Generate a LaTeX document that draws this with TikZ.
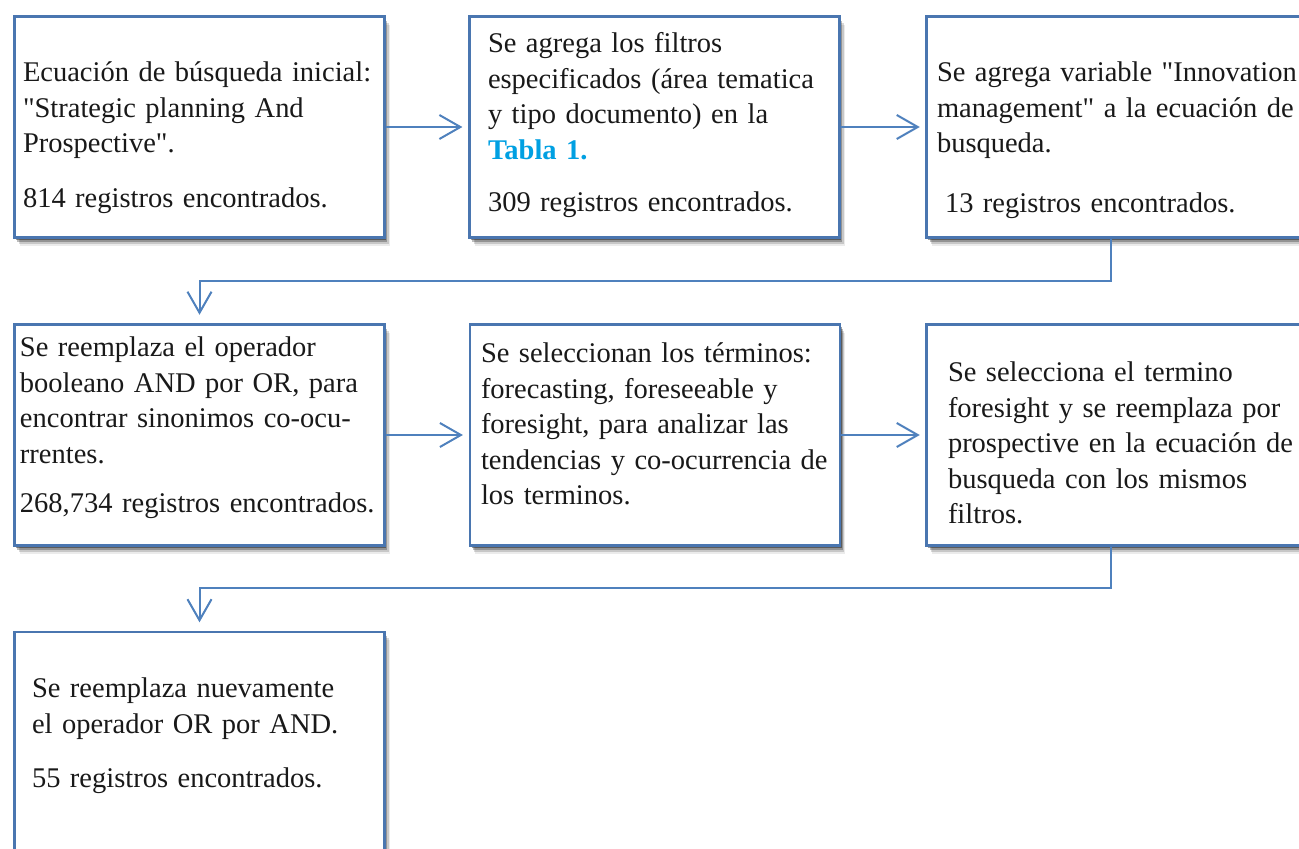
\documentclass[tikz,border=0pt]{standalone}
\usepackage{fontspec}
\setmainfont{Liberation Serif}[Ligatures=TeXOff]
\usetikzlibrary{arrows.meta,shadows}
\definecolor{boxblue}{RGB}{74,118,176}
\definecolor{lineblue}{RGB}{79,129,189}
\definecolor{tabla}{RGB}{0,160,226}
\definecolor{ink}{RGB}{25,25,25}
\newcommand\boxfont{\fontsize{17.1pt}{21.3pt}\selectfont}
\newcommand\jl[1]{\makebox[\linewidth][s]{#1}}
\tikzset{
  softshadow/.style={
    drop shadow={shadow xshift=0.9pt,shadow yshift=-1.3pt,opacity=0.38,fill=black},
    drop shadow={shadow xshift=1.7pt,shadow yshift=-2.6pt,opacity=0.26,fill=black},
    drop shadow={shadow xshift=2.4pt,shadow yshift=-3.8pt,opacity=0.15,fill=black},
    drop shadow={shadow xshift=3.0pt,shadow yshift=-5.0pt,opacity=0.08,fill=black}},
  box/.style={rectangle, draw=boxblue, line width=1.7pt, fill=white, inner sep=0pt, softshadow},
  txt/.style={anchor=north west, inner sep=0pt, outer sep=0pt, align=left, font=\boxfont, text=ink},
  conn/.style={draw=lineblue, line width=1.2pt, -{Straight Barb[length=12.6pt, width=14.4pt]}}
}
\begin{document}
\begin{tikzpicture}[x=0.6pt,y=-0.6pt]
\useasboundingbox (0,0) rectangle (1299,849);
\fill[white] (0,0) rectangle (1299,849);
\clip (0,0) rectangle (1299,849);

% boxes
\node[box, minimum width=222pt, minimum height=132.6pt] (A) at (199.5,127) {};
\node[box, minimum width=222pt, minimum height=132.6pt] (B) at (654.5,127) {};
\node[box, minimum width=230pt, minimum height=132.6pt] (C) at (1118.5,127) {};
\node[box, minimum width=222pt, minimum height=132.6pt] (D) at (199.5,435) {};
\node[box, minimum width=222pt, minimum height=132.6pt] (E) at (655,435) {};
\node[box, minimum width=230pt, minimum height=132.6pt] (F) at (1118.5,435) {};
\node[box, minimum width=222pt, minimum height=144pt] (G) at (199.5,752) {};

% texts
\node[txt, text width=219pt] (tA) at (23,57) {\strut Ecuación de búsqueda inicial:\\
"Strategic planning And\\
Prospective".\\[11.7pt]
814 registros encontrados.};

\node[txt, text width=207pt] (tB) at (488,28) {\strut Se agrega los filtros\\
especificados (área tematica\\
y tipo documento) en la\\
\textcolor{tabla}{\textbf{Tabla 1.}}\\[10.2pt]
309 registros encontrados.};

\node[txt, text width=222pt] (tC) at (937,57) {\strut Se agrega variable "Innovation\\
management" a la ecuación de\\
busqueda.\\[14.7pt]
\hspace*{4.8pt}13 registros encontrados.};

\node[txt, text width=213pt] (tD) at (20,332) {\strut\jl{Se reemplaza el operador}\\
\jl{booleano AND por OR, para}\\
\jl{encontrar sinonimos co-ocu-}\\
rrentes.\\[8.4pt]
268,734 registros encontrados.};

\node[txt, text width=210pt] (tE) at (481,338) {\strut\jl{Se seleccionan los términos:}\\
\jl{forecasting, foreseeable y}\\
\jl{foresight, para analizar las}\\
\jl{tendencias y co-ocurrencia de}\\
los terminos.};

\node[txt, text width=209.4pt] (tF) at (948,357) {\strut\jl{Se selecciona el termino}\\
\jl{foresight y se reemplaza por}\\
\jl{prospective en la ecuación de}\\
\jl{busqueda con los mismos}\\
filtros.};

\node[txt, text width=210pt] (tG) at (32,673) {\strut Se reemplaza nuevamente\\
el operador OR por AND.\\[11.4pt]
55 registros encontrados.};

% connectors
\draw[conn, shorten >=3.4pt] (A) -- (B);
\draw[conn, shorten >=3.4pt] (B) -- (C);
\draw[conn, shorten >=3.4pt] (D) -- (E);
\draw[conn, shorten >=3.4pt] (E) -- (F);
\coordinate (k1) at (1111,281);
\draw[conn, shorten >=5pt] (C.south -| k1) -- (k1) -| (D.north);
\coordinate (k2) at (1111,588);
\draw[conn, shorten >=5pt] (F.south -| k2) -- (k2) -| (G.north);
\end{tikzpicture}
\end{document}
